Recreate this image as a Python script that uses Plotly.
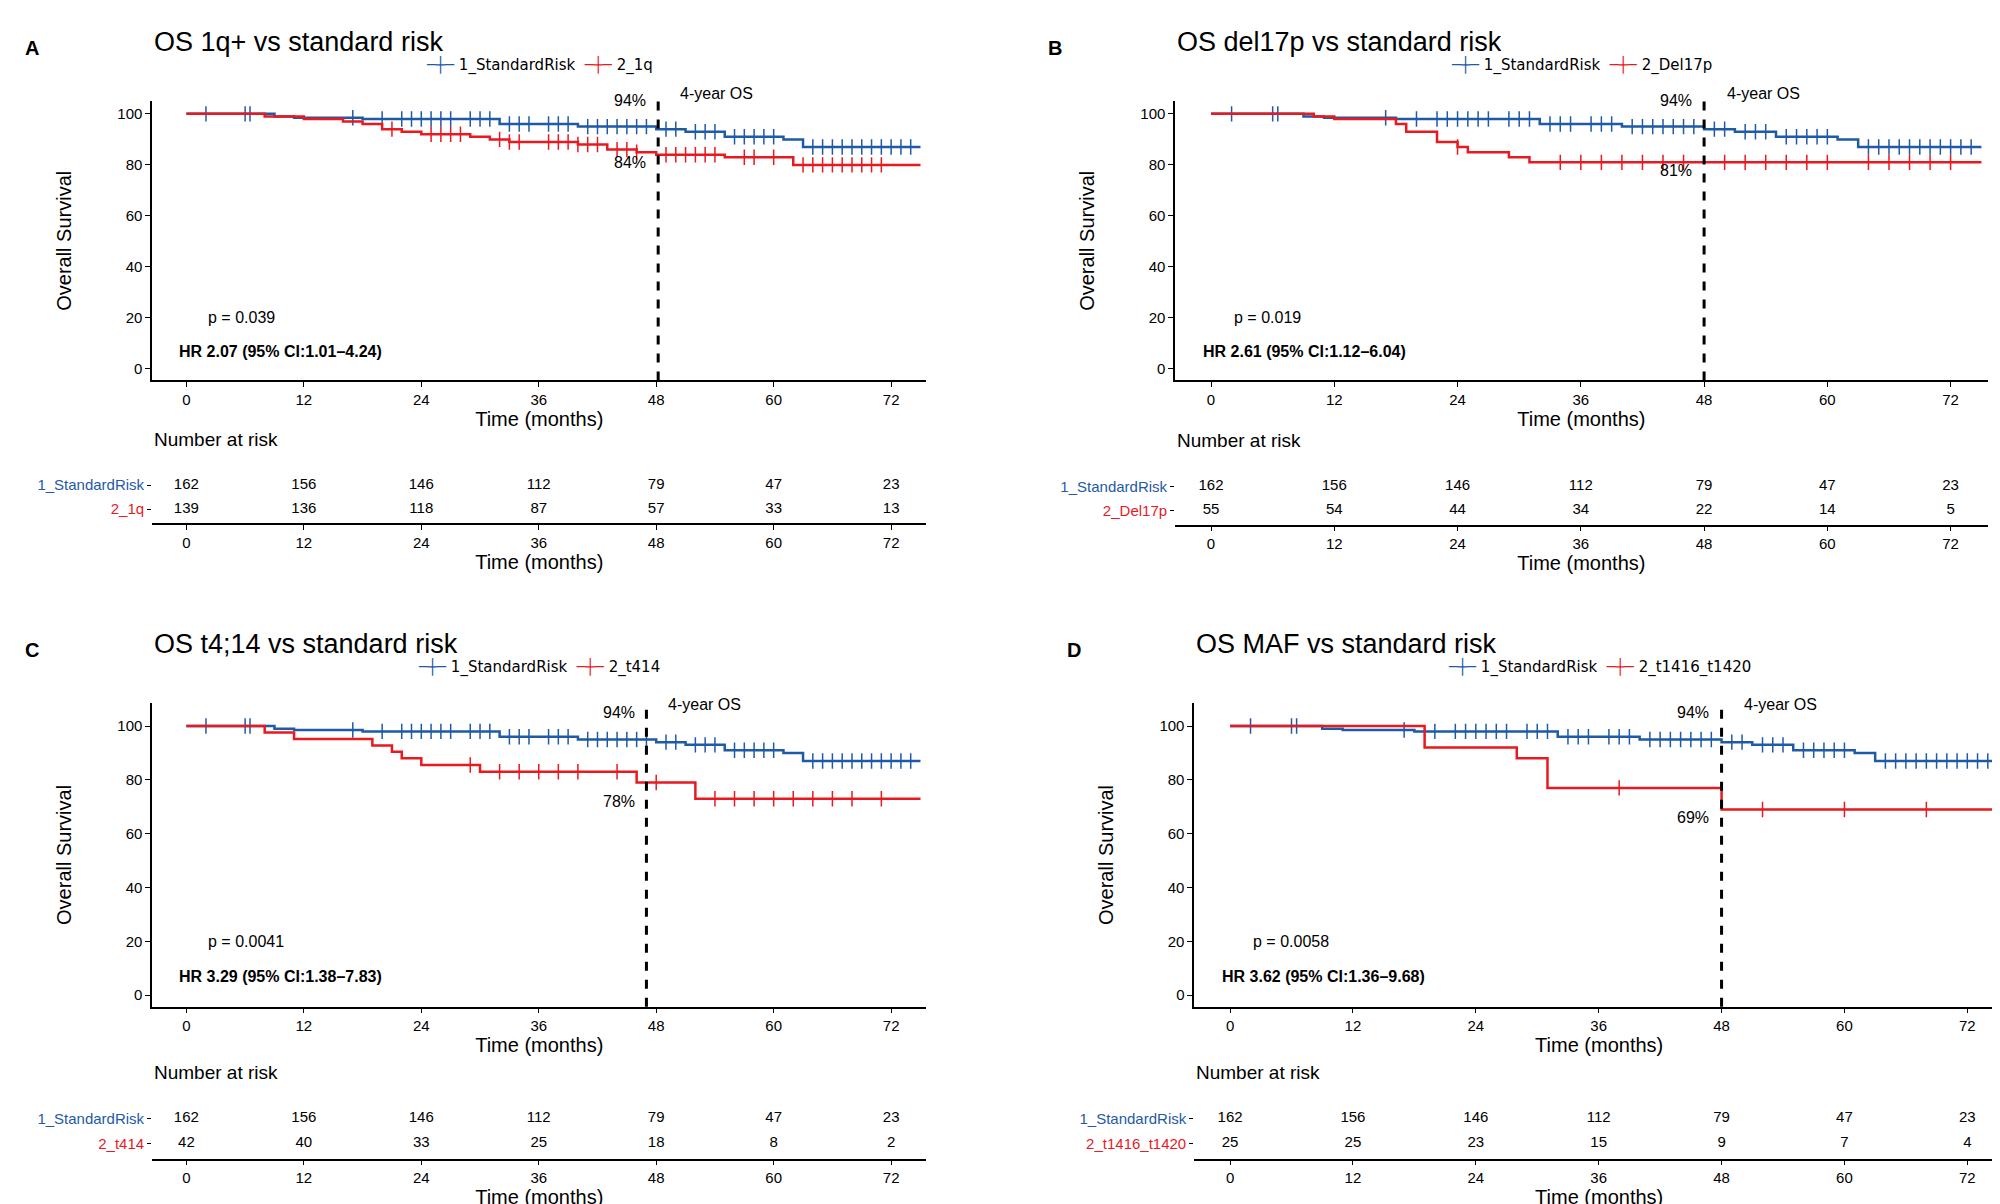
import plotly.graph_objects as go

BLUE = "#1f5aa6"
RED = "#e8191f"

months = [0, 12, 24, 36, 48, 60, 72]

# standard risk curve (shared by all panels)
std_t = [0, 9, 11, 18, 32, 40, 48, 51, 55, 61, 63]
std_s = [100, 99, 98.5, 98, 96, 95, 94, 93, 91, 90, 87]
std_cens = [2, 6, 6.5, 17, 20, 22, 23, 24, 25, 26, 27, 29, 30, 31, 33, 34, 35, 37, 38, 39, 41, 42, 43,
            44, 45, 46, 47, 49, 50, 52, 53, 54, 56, 57, 58, 59, 60, 64, 65, 66, 67, 68, 69, 70, 71, 72, 73, 74]
std_risk = [162, 156, 146, 112, 79, 47, 23]

q1_t = [0, 8, 12, 16, 18, 20, 22, 24, 29, 31, 33, 40, 43, 46, 48, 55, 62]
q1_s = [100, 99, 98, 97, 96, 94, 93, 92, 91, 90, 89, 88, 86, 85, 84, 83, 80]
q1_cens = [21, 25, 26, 27, 28, 32, 33, 34, 37, 38, 39, 40, 41, 42, 44, 45, 46, 49, 50, 51, 52, 53, 54,
           57, 58, 60, 63, 64, 65, 66, 67, 68, 69, 70, 71]
q1_risk = [139, 136, 118, 87, 57, 33, 13]

d17_t = [0, 10, 12, 18, 19, 22, 24, 25, 29, 31]
d17_s = [100, 99, 98, 96, 93, 89, 87, 85, 83, 81]
d17_cens = [24, 34, 36, 38, 40, 42, 44, 46, 50, 52, 54, 56, 58, 60, 64, 66, 68, 70, 72]
d17_risk = [55, 54, 44, 34, 22, 14, 5]

t414_t = [0, 8, 11, 19, 21, 22, 24, 30, 46, 52]
t414_s = [100, 97.6, 95.2, 92.8, 90.4, 88, 85.5, 83, 79, 73]
t414_cens = [29, 32, 34, 36, 38, 40, 44, 48, 54, 56, 58, 60, 62, 64, 66, 68, 71]
t414_risk = [42, 40, 33, 25, 18, 8, 2]

maf_t = [0, 19, 28, 31, 48]
maf_s = [100, 92, 88, 77, 69]
maf_cens = [38, 52, 60, 68]
maf_risk = [25, 25, 23, 15, 9, 7, 4]


def surv_at(ts, ss, x):
    v = ss[0]
    for t, s in zip(ts, ss):
        if t <= x:
            v = s
    return v


def ax(letter, k):
    return letter if k == 1 else f"{letter}{k}"


W, H = 2000, 1204
S = W / 1568.0

panels = [
    dict(letter="A", title="OS 1q+ vs standard risk", grp="2_1q", t=q1_t, s=q1_s, c=q1_cens, r=q1_risk,
         x0=113, x1=720, y0=73, y1=292, yr=[-4.5, 105], ty0=362, ty1=404, vl=48.2,
         lo="84%", lov=77, p="p = 0.039", hr="HR 2.07 (95% CI:1.01\u20134.24)"),
    dict(letter="B", title="OS del17p vs standard risk", grp="2_Del17p", t=d17_t, s=d17_s, c=d17_cens, r=d17_risk,
         x0=915, x1=1552, y0=73, y1=292, yr=[-4.5, 105], ty0=363, ty1=405, vl=48,
         lo="81%", lov=73.5, p="p = 0.019", hr="HR 2.61 (95% CI:1.12\u20136.04)"),
    dict(letter="C", title="OS t4;14 vs standard risk", grp="2_t414", t=t414_t, s=t414_s, c=t414_cens, r=t414_risk,
         x0=113, x1=720, y0=545, y1=783, yr=[-4.3, 108.5], ty0=858, ty1=902, vl=47,
         lo="78%", lov=68, p="p = 0.0041", hr="HR 3.29 (95% CI:1.38\u20137.83)"),
    dict(letter="D", title="OS MAF vs standard risk", grp="2_t1416_t1420", t=maf_t, s=maf_s, c=maf_cens, r=maf_risk,
         x0=930, x1=1565, y0=545, y1=783, yr=[-4.3, 108.5], ty0=858, ty1=902, vl=48,
         lo="69%", lov=62, p="p = 0.0058", hr="HR 3.62 (95% CI:1.36\u20139.68)"),
]

fig = go.Figure()
layout = dict(width=W, height=H, paper_bgcolor="white", plot_bgcolor="white",
              margin=dict(l=0, r=0, t=0, b=0), showlegend=False,
              font=dict(family="Liberation Sans, Arial", color="black", size=16))
annos = []
shapes = []

for i, p in enumerate(panels):
    ka = 2 * i + 1
    kb = 2 * i + 2
    xa, ya, xb, yb = ax("x", ka), ax("y", ka), ax("x", kb), ax("y", kb)
    xd = [p["x0"] * S / W, p["x1"] * S / W]
    axis_common = dict(showgrid=False, zeroline=False, showline=True, linecolor="black", linewidth=1.5,
                       ticks="outside", ticklen=5, tickcolor="black", tickfont=dict(size=15))
    # main plot
    layout[f"xaxis{ka}"] = dict(domain=xd, range=[-3.5, 75.6], anchor=ya, tickvals=months,
                                title=dict(text="Time (months)", font=dict(size=20), standoff=4), **axis_common)
    layout[f"yaxis{ka}"] = dict(domain=[1 - p["y1"] * S / H, 1 - p["y0"] * S / H], range=p["yr"],
                                anchor=xa, tickvals=[0, 20, 40, 60, 80, 100], ticksuffix="%",
                                title=dict(text="Overall Survival", font=dict(size=20), standoff=40),
                                **axis_common)
    # risk table
    layout[f"xaxis{kb}"] = dict(domain=xd, range=[-3.5, 75.6], anchor=yb, tickvals=months,
                                title=dict(text="Time (months)", font=dict(size=20), standoff=4), **axis_common)
    layout[f"yaxis{kb}"] = dict(domain=[1 - p["ty1"] * S / H, 1 - p["ty0"] * S / H], range=[-0.6, 1.65],
                                anchor=xb, tickvals=[1, 0],
                                ticktext=[f"<span style='color:{BLUE}'>1_StandardRisk</span>",
                                          f"<span style='color:{RED}'>{p['grp']}</span>"],
                                showgrid=False, zeroline=False, showline=False, ticks="outside",
                                ticklen=4, tickcolor="black", tickfont=dict(size=15))

    for ts, ss, cens, col in [(std_t, std_s, std_cens, BLUE), (p["t"], p["s"], p["c"], RED)]:
        fig.add_trace(go.Scatter(x=ts + [75], y=ss + [ss[-1]], mode="lines",
                                 line=dict(color=col, width=2.5, shape="hv"), xaxis=xa, yaxis=ya))
        fig.add_trace(go.Scatter(x=cens, y=[surv_at(ts, ss, c) for c in cens], mode="markers",
                                 marker=dict(symbol="line-ns-open", size=11, color=col, line=dict(width=1.5, color=col)),
                                 xaxis=xa, yaxis=ya))
    fig.add_trace(go.Scatter(x=months, y=[1] * 7, mode="text", text=[str(v) for v in std_risk],
                             textfont=dict(size=15), xaxis=xb, yaxis=yb))
    fig.add_trace(go.Scatter(x=months, y=[0] * 7, mode="text", text=[str(v) for v in p["r"]],
                             textfont=dict(size=15), xaxis=xb, yaxis=yb))

    shapes.append(dict(type="line", xref=xa, yref=f"{ya} domain", x0=p["vl"], x1=p["vl"], y0=0, y1=1,
                       line=dict(color="black", width=3, dash="dash")))
    annos += [
        dict(xref=xa, yref=ya, x=p["vl"] - 1, y=101, text="94%", showarrow=False,
             xanchor="right", yanchor="bottom", font=dict(size=16)),
        dict(xref=xa, yref=ya, x=p["vl"] - 1, y=p["lov"], text=p["lo"], showarrow=False,
             xanchor="right", yanchor="bottom", font=dict(size=16)),
        dict(xref=xa, yref=ya, x=p["vl"] + 2, y=104, text="4-year OS", showarrow=False,
             xanchor="left", yanchor="bottom", font=dict(size=16)),
        dict(xref=xa, yref=ya, x=2, y=20, text=p["p"], showarrow=False,
             xanchor="left", font=dict(size=16)),
        dict(xref=xa, yref=ya, x=-1, y=7, text="<b>" + p["hr"] + "</b>", showarrow=False,
             xanchor="left", font=dict(size=16)),
        dict(xref="paper", yref="paper", x=xd[0], y=1 - (p["ty0"] - 14) * S / H, text="Number at risk",
             showarrow=False, xanchor="left", yanchor="bottom", font=dict(size=19)),
        dict(xref="paper", yref="paper", x=(p["x0"] - 101) * S / W, y=1 - (p["y0"] - 52) * S / H,
             text="<b>" + p["letter"] + "</b>", showarrow=False, xanchor="left", yanchor="top",
             font=dict(size=20)),
        dict(xref="paper", yref="paper", x=xd[0], y=1 - (p["y0"] - 60) * S / H, text=p["title"],
             showarrow=False, xanchor="left", yanchor="top", font=dict(size=27)),
        dict(xref="paper", yref="paper", x=(xd[0] + xd[1]) / 2, y=1 - (p["y0"] - 28) * S / H,
             text=f"<span style='color:{BLUE}'>\u2500\u253c\u2500</span> 1_StandardRisk  "
                  f"<span style='color:{RED}'>\u2500\u253c\u2500</span> {p['grp']}",
             showarrow=False, xanchor="center", yanchor="middle", font=dict(size=15, family="DejaVu Sans")),
    ]

layout["annotations"] = annos
layout["shapes"] = shapes
fig.update_layout(**layout)
fig.write_html("out.html")
